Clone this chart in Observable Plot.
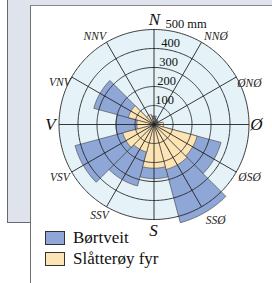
<!DOCTYPE html>
<html><head><meta charset="utf-8">
<script src="https://cdn.jsdelivr.net/npm/d3@7"></script>
<script src="https://cdn.jsdelivr.net/npm/@observablehq/plot@0.6"></script>
<style>
html,body{margin:0;padding:0;background:#fff;}
#page{position:relative;width:272px;height:283px;overflow:hidden;font-family:"Liberation Serif",serif;}
#gray{position:absolute;left:7px;top:-2px;width:300px;height:224px;background:#dfe4ec;border-left:1px solid #666a70;border-bottom:1px solid #666a70;}
#panel{position:absolute;left:30px;top:5px;width:300px;height:300px;background:#fff;border-left:1.5px solid #707070;border-top:1.5px solid #8a8a8a;}
#chart{position:absolute;left:0;top:0;}
#legend{position:absolute;left:45px;top:227px;}
.item{display:flex;align-items:center;height:21px;font-size:17px;color:#111;}
.sw{width:18px;height:12px;border:1px solid #333;margin-right:8px;}
</style></head>
<body><div id="page"><div id="gray"></div><div id="panel"></div><div id="chart"></div><div id="legend"></div></div>
<script>
const directions = ["N","NNØ","ØNØ","Ø","ØSØ","SSØ","S","SSV","VSV","V","VNV","NNV"];
const angles = [0,30,60,90,120,150,180,210,240,270,300,330];
const bortveit = [45, 30, 25, 40, 365, 535, 285, 335, 430, 200, 328, 50];
const slatteroy = [30, 20, 15, 50, 235, 245, 230, 150, 170, 90, 140, 55];
const ringValues = [100, 200, 300, 400, 500];
const ringLabels = ["100", "200", "300", "400", "500 mm"];
const seriesNames = ["Børtveit", "Slåtterøy fyr"];
const seriesColors = ["#8fa7d6", "#fde4b4"];

const W = 272, H = 231, cx = 153.5, cy = 124, k = 95 / 500;
const rad = d => d * Math.PI / 180;
const px = (a, r) => r * Math.sin(rad(a));
const py = (a, r) => r * Math.cos(rad(a));

function arcPts(a0, a1, r, step = 1) {
  const pts = [];
  const n = Math.max(2, Math.ceil(Math.abs(a1 - a0) / step));
  for (let i = 0; i <= n; i++) { const a = a0 + (a1 - a0) * i / n; pts.push([px(a, r), py(a, r)]); }
  return pts;
}

const disk = arcPts(0, 360, 500).map(([x, y]) => ({x, y}));
const bars = [];
[bortveit, slatteroy].forEach((vals, s) => {
  vals.forEach((v, i) => {
    const a = angles[i];
    const pts = [[0, 0], ...arcPts(a - 15, a + 15, v), [0, 0]];
    pts.forEach(([x, y]) => bars.push({key: s + "-" + i, series: seriesNames[s], x, y}));
  });
});
const rings = [];
ringValues.forEach(r => arcPts(0, 360, r).forEach(([x, y]) => rings.push({r, x, y})));
const spokes = angles.map(a => ({x2: px(a, 500), y2: py(a, 500)}));

const labelPos = [null, [35, 108], [66.5, 104], null, [118.8, 109], [147.2, 114], null, [210.9, 106], [240.7, 108], null, [294, 103], [326, 106]];
const dirLabels = directions.map((d, i) => ({d, pos: labelPos[i]})).filter(o => o.pos)
  .map(o => ({d: o.d, x: px(o.pos[0], o.pos[1] / k), y: py(o.pos[0], o.pos[1] / k)}));
const mainLabels = [
  {d: "N", x: 0.5 / k, y: 105 / k},
  {d: "Ø", x: 102.5 / k, y: 0},
  {d: "S", x: -0.5 / k, y: -106 / k},
  {d: "V", x: -103.5 / k, y: 0}
];
const ringText = ringValues.map((v, i) => ({v, t: ringLabels[i]}));

const chart = Plot.plot({
  width: W, height: H, margin: 0,
  style: {background: "transparent", overflow: "visible"},
  x: {domain: [-cx / k, (W - cx) / k], range: [0, W], axis: null},
  y: {domain: [-(H - cy) / k, cy / k], range: [H, 0], axis: null},
  color: {domain: seriesNames, range: seriesColors},
  marks: [
    Plot.line(disk, {x: "x", y: "y", fill: "#e5f2f8", stroke: "none"}),
    Plot.line(bars, {x: "x", y: "y", z: "key", fill: "series", stroke: "#3a3a3a", strokeWidth: 0.6, strokeLinejoin: "miter"}),
    Plot.line(rings, {x: "x", y: "y", z: "r", stroke: "#222", strokeWidth: 0.9}),
    Plot.link(spokes, {x1: 0, y1: 0, x2: "x2", y2: "y2", stroke: "#222", strokeWidth: 0.9}),
    Plot.text(ringText.filter(d => d.v < 500), {x: d => 45 + d.v * 0.105, y: "v", text: "t", dy: -6, fontSize: 12.5, fontFamily: "Liberation Serif", fill: "#111"}),
    Plot.text(ringText.filter(d => d.v === 500), {x: 60, y: "v", text: "t", dy: -6, textAnchor: "start", fontSize: 12.5, fontFamily: "Liberation Serif", fill: "#111"}),
    Plot.text(dirLabels, {x: "x", y: "y", text: "d", fontSize: 11.5, fontStyle: "italic", fontFamily: "Liberation Serif", fill: "#222"}),
    Plot.text(mainLabels, {x: "x", y: "y", text: "d", fontSize: 17, fontStyle: "italic", fontFamily: "Liberation Serif", fill: "#111"})
  ]
});
document.getElementById("chart").appendChild(chart);

const legend = document.getElementById("legend");
seriesNames.forEach((n, i) => {
  const it = document.createElement("div"); it.className = "item";
  const sw = document.createElement("div"); sw.className = "sw"; sw.style.background = seriesColors[i];
  const tx = document.createElement("span"); tx.textContent = n;
  it.appendChild(sw); it.appendChild(tx); legend.appendChild(it);
});
</script></body></html>
